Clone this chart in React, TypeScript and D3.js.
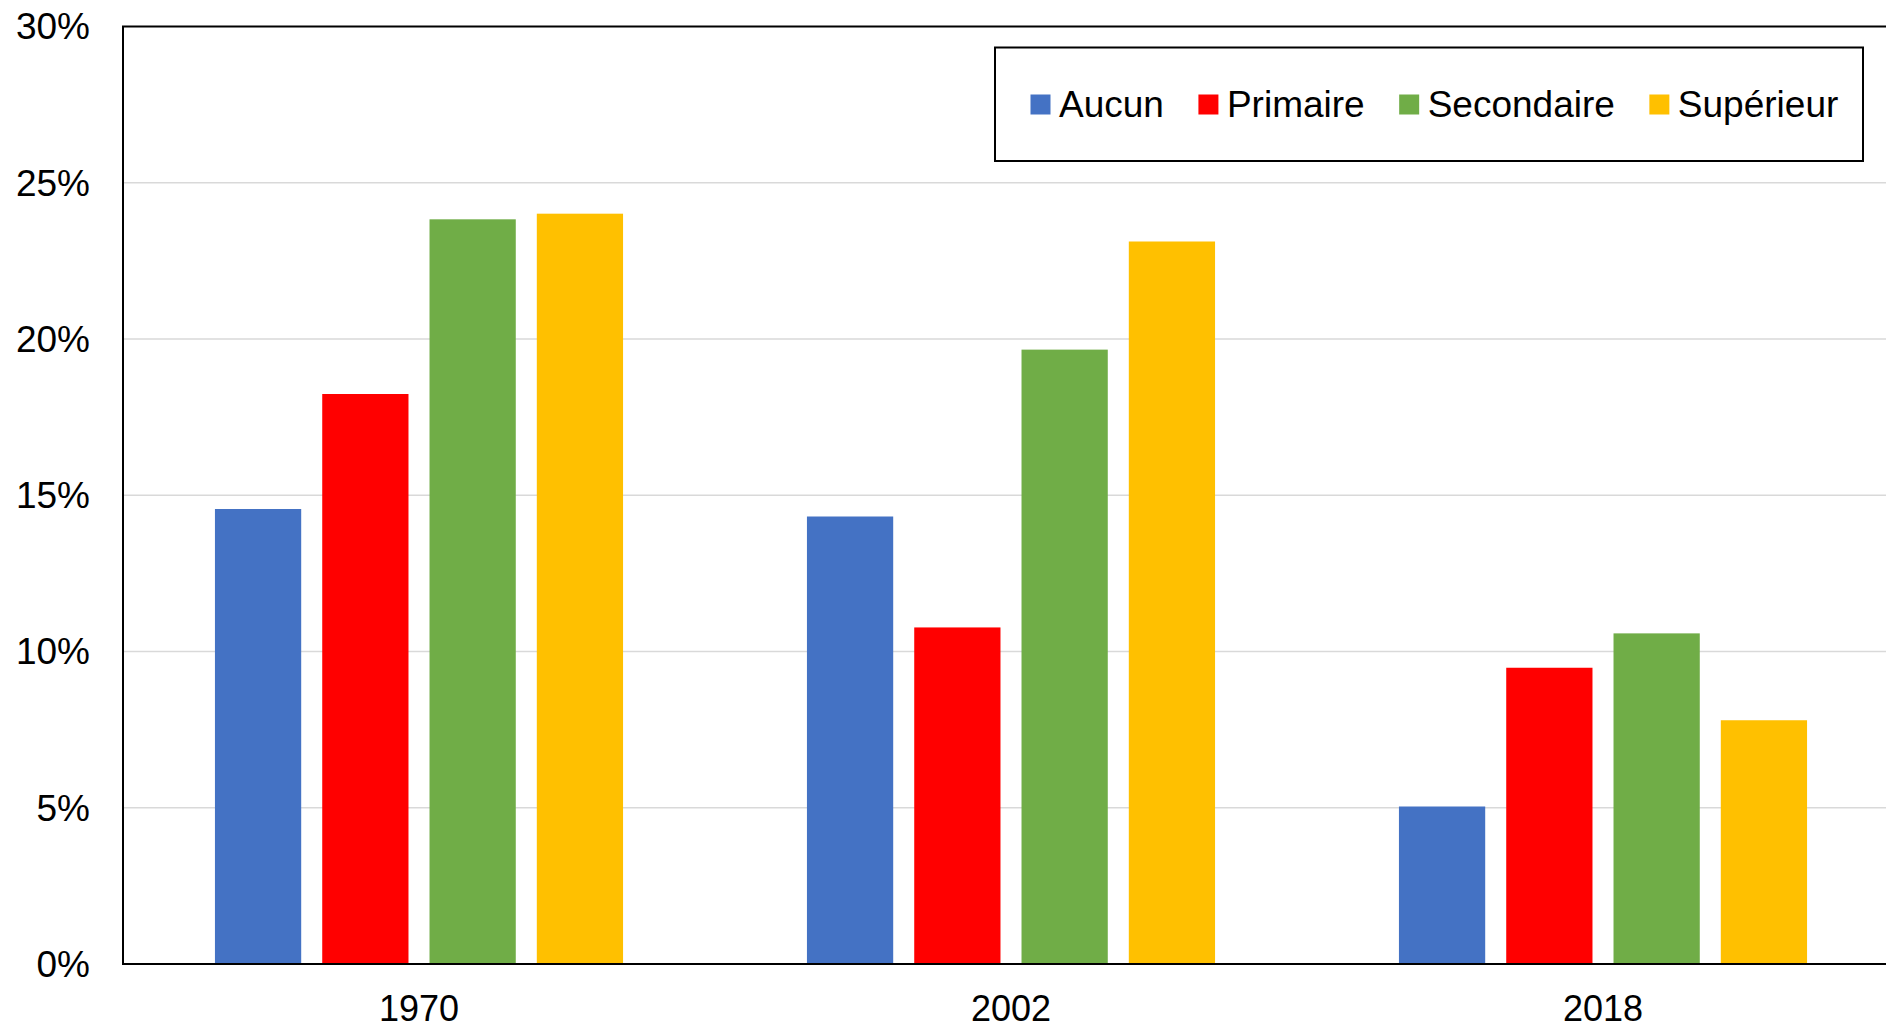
import { useRef, useEffect } from 'react';
import * as d3 from 'd3';

const years = ['1970', '2002', '2018'];
const seriesNames = ['Aucun', 'Primaire', 'Secondaire', 'Supérieur'];
const seriesColors = ['#4472C4', '#FF0000', '#70AD47', '#FFC000'];
const aucun = [14.56, 14.32, 5.04];
const primaire = [18.24, 10.77, 9.48];
const secondaire = [23.83, 19.66, 10.58];
const superieur = [24.01, 23.12, 7.8];
const yTicks = [0, 5, 10, 15, 20, 25, 30];

export default function App() {
  const svgRef = useRef<SVGSVGElement | null>(null);

  useEffect(() => {
    const width = 1886;
    const height = 1026;
    const margin = { top: 26.5, left: 123, bottom: 964 };
    const font = '"Liberation Sans", Arial, sans-serif';
    const values = [aucun, primaire, secondaire, superieur];

    const svg = d3.select(svgRef.current)
      .attr('width', width)
      .attr('height', height);
    svg.selectAll('*').remove();

    const x0 = d3.scaleBand()
      .domain(years)
      .range([margin.left, margin.left + 3 * 592])
      .padding(0);

    const x1 = d3.scaleBand()
      .domain(seriesNames)
      .range([0, x0.bandwidth()])
      .paddingInner(0.196)
      .paddingOuter(0.857);

    const y = d3.scaleLinear()
      .domain([0, 30])
      .range([margin.bottom, margin.top]);

    // gridlines
    svg.append('g')
      .selectAll('line')
      .data(yTicks.filter(t => t > 0 && t < 30))
      .enter()
      .append('line')
      .attr('x1', margin.left)
      .attr('x2', width)
      .attr('y1', d => y(d))
      .attr('y2', d => y(d))
      .attr('stroke', '#d9d9d9')
      .attr('stroke-width', 1.5);

    // bars
    const groups = svg.append('g')
      .selectAll('g')
      .data(years)
      .enter()
      .append('g')
      .attr('transform', d => `translate(${x0(d)},0)`);

    groups.selectAll('rect')
      .data((d, i) => seriesNames.map((s, j) => ({ s, j, v: values[j][i] })))
      .enter()
      .append('rect')
      .attr('x', d => x1(d.s) as number)
      .attr('y', d => y(d.v))
      .attr('width', x1.bandwidth())
      .attr('height', d => y(0) - y(d.v))
      .attr('fill', d => seriesColors[d.j]);

    // frame: left, top, bottom
    svg.append('line')
      .attr('x1', margin.left).attr('x2', margin.left)
      .attr('y1', margin.top).attr('y2', margin.bottom)
      .attr('stroke', '#000').attr('stroke-width', 2);
    svg.append('line')
      .attr('x1', margin.left - 1).attr('x2', width)
      .attr('y1', margin.top).attr('y2', margin.top)
      .attr('stroke', '#000').attr('stroke-width', 2);
    svg.append('line')
      .attr('x1', margin.left - 1).attr('x2', width)
      .attr('y1', y(0)).attr('y2', y(0))
      .attr('stroke', '#000').attr('stroke-width', 2);

    // y tick labels
    svg.append('g')
      .selectAll('text')
      .data(yTicks)
      .enter()
      .append('text')
      .attr('x', 90)
      .attr('y', d => y(d))
      .attr('dy', '0.35em')
      .attr('text-anchor', 'end')
      .attr('font-family', font)
      .attr('font-size', 37)
      .attr('fill', '#000')
      .text(d => `${d}%`);

    // x labels
    svg.append('g')
      .selectAll('text')
      .data(years)
      .enter()
      .append('text')
      .attr('x', d => (x0(d) as number) + x0.bandwidth() / 2)
      .attr('y', 1021)
      .attr('text-anchor', 'middle')
      .attr('font-family', font)
      .attr('font-size', 36)
      .attr('fill', '#000')
      .text(d => d);

    // legend
    const legend = svg.append('g');
    legend.append('rect')
      .attr('x', 995).attr('y', 47.5)
      .attr('width', 868).attr('height', 113.5)
      .attr('fill', '#fff')
      .attr('stroke', '#000').attr('stroke-width', 2);

    let lx = 1030.5;
    const ly = 104.5;
    seriesNames.forEach((name, i) => {
      legend.append('rect')
        .attr('x', lx).attr('y', ly - 10)
        .attr('width', 20).attr('height', 20)
        .attr('fill', seriesColors[i]);
      const t = legend.append('text')
        .attr('x', lx + 28.5)
        .attr('y', ly)
        .attr('dy', '0.35em')
        .attr('font-family', font)
        .attr('font-size', 37)
        .attr('fill', '#000')
        .text(name);
      const w = (t.node() as SVGTextElement).getComputedTextLength();
      lx = lx + 28.5 + w + 34.5;
    });
  }, []);

  return (
    <svg ref={svgRef} style={{ position: 'absolute', left: 0, top: 0, display: 'block' }} />
  );
}
